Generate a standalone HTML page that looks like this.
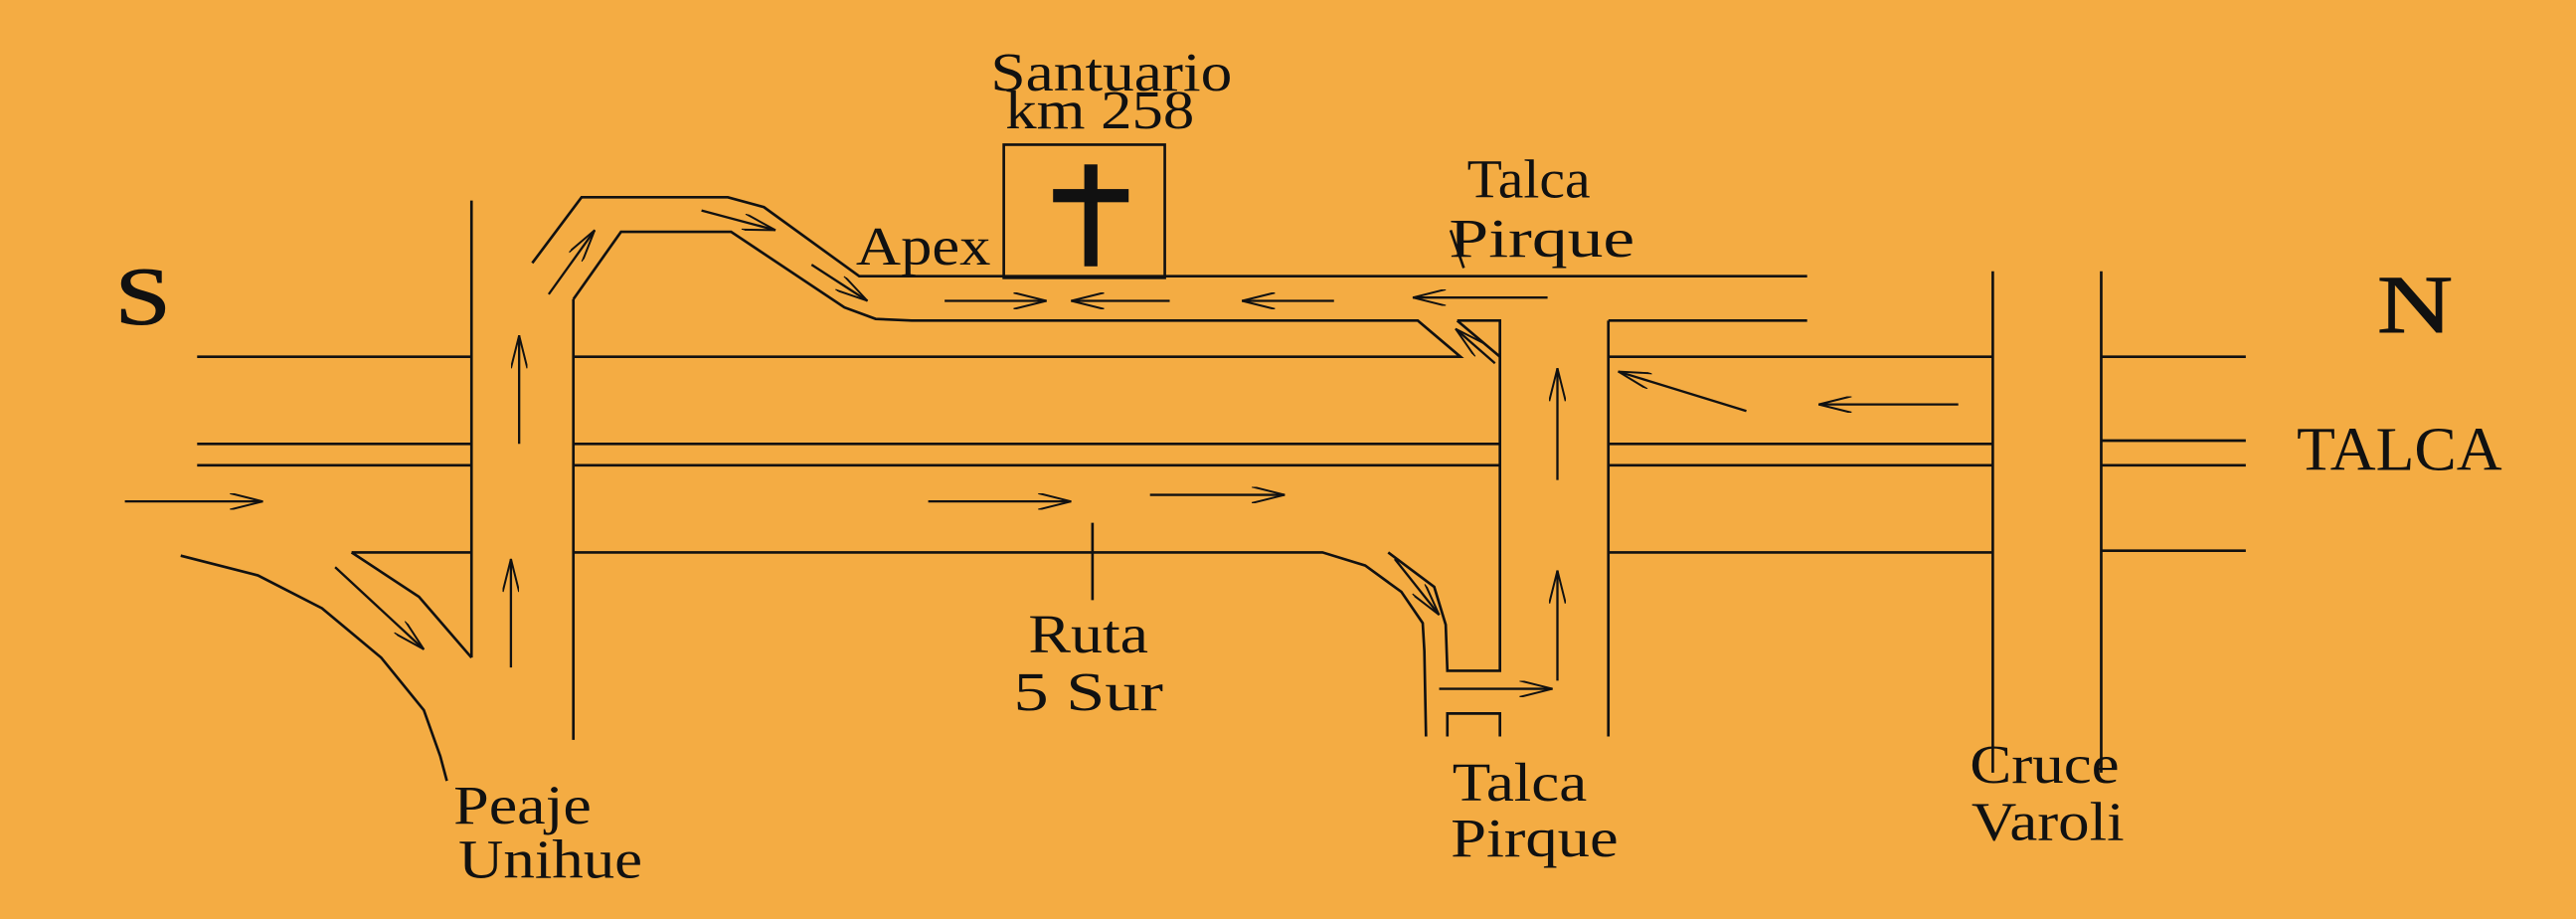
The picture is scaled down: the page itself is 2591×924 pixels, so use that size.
<!DOCTYPE html>
<html><head><meta charset="utf-8"><style>
html,body{margin:0;padding:0;background:#F4AC43;}
svg{display:block}
text{font-family:"Liberation Serif",serif;fill:#111}
</style></head><body>
<svg width="2591" height="924" viewBox="0 0 1568 559" preserveAspectRatio="none" xmlns="http://www.w3.org/2000/svg">
<rect width="1568" height="559" fill="#F4AC43"/>
<defs>
<marker id="a" viewBox="0 0 20 10" refX="20" refY="5" markerWidth="22" markerHeight="10" markerUnits="userSpaceOnUse" orient="auto">
<path d="M0,0 L20,5 L0,10" fill="none" stroke="#111" stroke-width="1.2"/></marker>
</defs>
<g stroke="#111" stroke-width="1.6" fill="none">
<line x1="287" y1="122" x2="287" y2="400"/>
<line x1="349" y1="182" x2="349" y2="450"/>
<line x1="120" y1="217" x2="287" y2="217"/>
<line x1="120" y1="270" x2="287" y2="270"/>
<line x1="120" y1="283" x2="287" y2="283"/>
<line x1="214" y1="336" x2="287" y2="336"/>
<polyline points="214,336 255,363 287,400"/>
<polyline points="110,338 157,350 196,370 232,400 258,432 268,460 272,475"/>
<polyline points="324,160 354,120 443,120 465,126 523,168 1100,168"/>
<polyline points="349,182 378,141 445,141 514,187 533,194 555,195 863,195 889,217 349,217"/>
<polyline points="887,195 913,195 913,217 887,195"/>
<line x1="349" y1="270" x2="913" y2="270"/>
<line x1="349" y1="283" x2="913" y2="283"/>
<polyline points="349,336 805,336 831,344 853,360 866,379 867,396 868,448"/>
<polyline points="845,336 873,357 880,380 881,408 913,408 913,217"/>
<polyline points="881,448 881,434 913,434 913,448"/>
<line x1="979" y1="195" x2="979" y2="448"/>
<line x1="979" y1="195" x2="1100" y2="195"/>
<line x1="979" y1="217" x2="1213" y2="217"/>
<line x1="979" y1="270" x2="1213" y2="270"/>
<line x1="979" y1="283" x2="1213" y2="283"/>
<line x1="979" y1="336" x2="1213" y2="336"/>
<line x1="1213" y1="165" x2="1213" y2="470"/>
<line x1="1279" y1="165" x2="1279" y2="470"/>
<line x1="1279" y1="217" x2="1367" y2="217"/>
<line x1="1279" y1="268" x2="1367" y2="268"/>
<line x1="1279" y1="283" x2="1367" y2="283"/>
<line x1="1279" y1="335" x2="1367" y2="335"/>
<rect x="611" y="88" width="98" height="81"/>
<line x1="665" y1="318" x2="665" y2="365"/>
<line x1="883" y1="140" x2="891" y2="163"/>
</g>
<rect x="660" y="100" width="8" height="62" fill="#111"/>
<rect x="641" y="115" width="46" height="8" fill="#111"/>
<g stroke="#111" stroke-width="1.4" fill="none" marker-end="url(#a)">
<line x1="76" y1="305" x2="160" y2="305"/>
<line x1="204" y1="345" x2="258" y2="395"/>
<line x1="316" y1="270" x2="316" y2="204"/>
<line x1="311" y1="406" x2="311" y2="340"/>
<line x1="334" y1="179" x2="362" y2="140"/>
<line x1="427" y1="128" x2="472" y2="140"/>
<line x1="494" y1="161" x2="528" y2="183"/>
<line x1="575" y1="183" x2="637" y2="183"/>
<line x1="712" y1="183" x2="652" y2="183"/>
<line x1="812" y1="183" x2="756" y2="183"/>
<line x1="942" y1="181" x2="860" y2="181"/>
<line x1="910" y1="221" x2="886" y2="200"/>
<line x1="565" y1="305" x2="652" y2="305"/>
<line x1="700" y1="301" x2="782" y2="301"/>
<line x1="948" y1="292" x2="948" y2="224"/>
<line x1="948" y1="414" x2="948" y2="347"/>
<line x1="876" y1="419" x2="945" y2="419"/>
<line x1="849" y1="340" x2="876" y2="374"/>
<line x1="1063" y1="250" x2="985" y2="226"/>
<line x1="1192" y1="246" x2="1107" y2="246"/>
</g>
<text x="70" y="197" font-size="50" textLength="34" lengthAdjust="spacingAndGlyphs" stroke="#111" stroke-width="0.6">S</text>
<text x="1447" y="202" font-size="50" textLength="46" lengthAdjust="spacingAndGlyphs" stroke="#111" stroke-width="0.6">N</text>
<text x="1398" y="286" font-size="38" textLength="125" lengthAdjust="spacingAndGlyphs">TALCA</text>
<g font-size="33">
<text x="603" y="55" textLength="147" lengthAdjust="spacingAndGlyphs">Santuario</text>
<text x="612" y="78" textLength="115" lengthAdjust="spacingAndGlyphs">km 258</text>
<text x="521" y="161" textLength="82" lengthAdjust="spacingAndGlyphs">Apex</text>
<text x="893" y="120" textLength="75" lengthAdjust="spacingAndGlyphs">Talca</text>
<text x="882" y="156" textLength="113" lengthAdjust="spacingAndGlyphs">Pirque</text>
<text x="626" y="397" textLength="73" lengthAdjust="spacingAndGlyphs">Ruta</text>
<text x="617" y="432" textLength="91" lengthAdjust="spacingAndGlyphs">5 Sur</text>
<text x="884" y="487" textLength="82" lengthAdjust="spacingAndGlyphs">Talca</text>
<text x="883" y="521" textLength="102" lengthAdjust="spacingAndGlyphs">Pirque</text>
<text x="1199" y="476" textLength="91" lengthAdjust="spacingAndGlyphs">Cruce</text>
<text x="1200" y="511" textLength="93" lengthAdjust="spacingAndGlyphs">Varoli</text>
<text x="276" y="501" textLength="84" lengthAdjust="spacingAndGlyphs">Peaje</text>
<text x="279" y="534" textLength="112" lengthAdjust="spacingAndGlyphs">Unihue</text>
</g>
</svg>
</body></html>
